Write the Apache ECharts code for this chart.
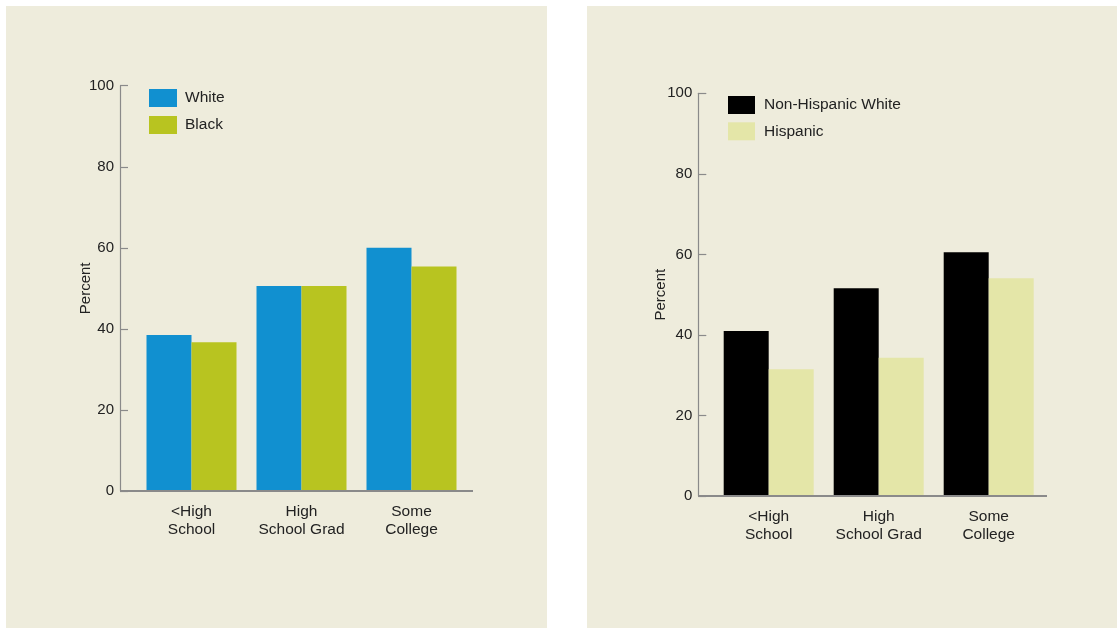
<!DOCTYPE html>
<html>
<head>
<meta charset="utf-8">
<script src="https://cdn.jsdelivr.net/npm/echarts@6/dist/echarts.min.js"></script>
<style>
html,body{margin:0;padding:0;background:#ffffff;width:1117px;height:628px;overflow:hidden;}
.panel{position:absolute;background:#EEECDC;}
#c1{left:6px;top:6px;width:541px;height:622px;}
#c2{left:587px;top:6px;width:530px;height:622px;}
</style>
</head>
<body>
<div id="c1" class="panel"></div>
<div id="c2" class="panel"></div>
<script>
// Data
const categories = ['<High\nSchool', 'High\nSchool Grad', 'Some\nCollege'];
const yTicks = [0, 20, 40, 60, 80, 100];
const leftSeriesNames = ['White', 'Black'];
const whiteValues = [38.5, 50.6, 60.0];
const blackValues = [36.7, 50.6, 55.4];
const rightSeriesNames = ['Non-Hispanic White', 'Hispanic'];
const nonHispWhiteValues = [41.0, 51.6, 60.5];
const hispanicValues = [31.5, 34.3, 54.1];

const FONT = '"Liberation Sans", Arial, Helvetica, sans-serif';
const TXT = '#222222';
const AXIS = '#8a8a8a';

function makeOption(cfg) {
  return {
    animation: false,
    backgroundColor: 'transparent',
    textStyle: {fontFamily: FONT},
    grid: {left: cfg.gridLeft, top: cfg.gridTop, width: 330, height: cfg.gridHeight, containLabel: false},
    legend: {
      orient: 'vertical',
      left: cfg.legendLeft, top: cfg.legendTop,
      padding: 0,
      itemWidth: cfg.itemW, itemHeight: 18, itemGap: cfg.itemGap,
      icon: 'rect',
      selectedMode: false,
      textStyle: {fontFamily: FONT, fontSize: 15.5, color: TXT, padding: [0, 0, 0, cfg.textPad]},
      data: cfg.names
    },
    xAxis: {
      type: 'category',
      data: categories,
      axisLine: {show: false},
      axisTick: {show: false},
      axisLabel: {fontFamily: FONT, fontSize: 15.5, color: TXT, lineHeight: 18.5, margin: 11, interval: 0}
    },
    yAxis: {
      type: 'value',
      min: 0, max: 100, interval: 20,
      offset: cfg.offset,
      name: 'Percent',
      nameLocation: 'middle',
      nameGap: cfg.nameGap,
      nameMoveOverlap: false,
      nameTextStyle: {fontFamily: FONT, fontSize: 15, color: TXT},
      axisLine: {show: true, lineStyle: {color: AXIS, width: 1.2}},
      axisTick: {show: true, inside: true, length: 8, lineStyle: {color: AXIS, width: 1.2}},
      splitLine: {show: false},
      axisLabel: {fontFamily: FONT, fontSize: 15, color: TXT, margin: 6,
        formatter: v => (yTicks.indexOf(v) >= 0 ? String(v) : '')}
    },
    series: [
      {name: cfg.names[0], type: 'bar', data: cfg.v1, barWidth: 45, barGap: '0%',
       itemStyle: {color: cfg.c1}},
      {name: cfg.names[1], type: 'bar', data: cfg.v2, barWidth: 45, barGap: '0%',
       itemStyle: {color: cfg.c2}}
    ]
  };
}

function addBaseLine(chart, cfg) {
  const y0 = chart.convertToPixel({yAxisIndex: 0}, 0);
  chart.setOption({
    graphic: [{
      type: 'line', z: 10,
      shape: {x1: cfg.gridLeft - cfg.offset, y1: y0, x2: cfg.axisRight, y2: y0},
      style: {stroke: AXIS, lineWidth: 1.8}
    }]
  });
}

const cfgL = {
  gridLeft: 130.5, gridTop: 79.7, gridHeight: 405.3, offset: 16.5, nameGap: 27,
  legendLeft: 143, legendTop: 83, itemW: 28, itemGap: 9, textPad: 3,
  names: leftSeriesNames, v1: whiteValues, v2: blackValues,
  c1: '#1190D0', c2: '#B8C420', axisRight: 467
};
const cfgR = {
  gridLeft: 126.7, gridTop: 87.3, gridHeight: 402.7, offset: 15.4, nameGap: 30,
  legendLeft: 141, legendTop: 90, itemW: 27, itemGap: 8.3, textPad: 4,
  names: rightSeriesNames, v1: nonHispWhiteValues, v2: hispanicValues,
  c1: '#000000', c2: '#E4E6A8', axisRight: 460
};

const ch1 = echarts.init(document.getElementById('c1'), null, {renderer: 'canvas'});
ch1.setOption(makeOption(cfgL));
addBaseLine(ch1, cfgL);
const ch2 = echarts.init(document.getElementById('c2'), null, {renderer: 'canvas'});
ch2.setOption(makeOption(cfgR));
addBaseLine(ch2, cfgR);
</script>
</body>
</html>
